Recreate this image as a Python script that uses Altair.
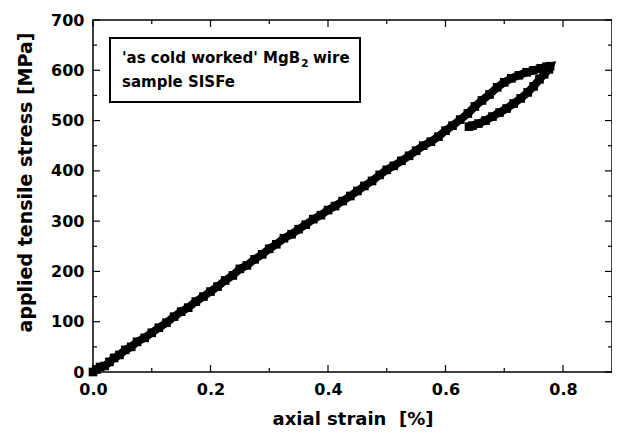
import altair as alt
import pandas as pd

# loading branch (axial strain %, stress MPa)
load_strain = [0.000, 0.006, 0.012, 0.020, 0.028, 0.036, 0.045, 0.055, 0.065, 0.075,
               0.088, 0.100, 0.112, 0.125, 0.138, 0.150, 0.162, 0.175, 0.188, 0.200,
               0.212, 0.225, 0.238, 0.250, 0.262, 0.275, 0.288, 0.300, 0.312, 0.325,
               0.338, 0.350, 0.362, 0.375, 0.388, 0.400, 0.412, 0.425, 0.438, 0.450,
               0.462, 0.475, 0.488, 0.500, 0.512, 0.525, 0.538, 0.550, 0.562, 0.575,
               0.588, 0.600, 0.612, 0.625, 0.638, 0.650, 0.662, 0.675, 0.688, 0.700,
               0.712, 0.725, 0.738, 0.750, 0.762, 0.772, 0.778]
load_stress = [0, 5, 10, 12, 20, 28, 34, 44, 50, 60,
               68, 78, 88, 98, 110, 120, 128, 140, 150, 160,
               170, 182, 192, 205, 212, 224, 234, 245, 254, 266,
               274, 284, 293, 304, 312, 322, 330, 340, 350, 360,
               370, 380, 392, 402, 410, 420, 430, 440, 450, 458,
               468, 480, 490, 502, 514, 528, 540, 552, 566, 576,
               584, 590, 596, 600, 604, 607, 608]
# unloading branch
unload_strain = [0.776, 0.768, 0.760, 0.750, 0.740, 0.728, 0.716, 0.704, 0.692,
                 0.680, 0.668, 0.656, 0.646, 0.640]
unload_stress = [602, 592, 582, 568, 556, 544, 534, 524, 516,
                 508, 500, 494, 490, 488]

x_major = [0.0, 0.2, 0.4, 0.6, 0.8]
x_minor = [0.1, 0.3, 0.5, 0.7]
y_major = [0, 100, 200, 300, 400, 500, 600, 700]
y_minor = [50, 150, 250, 350, 450, 550, 650]

legend_line1 = "'as cold worked' MgB"
legend_sub = "2"
legend_line1b = "wire"
legend_line2 = "sample SISFe"

W, H = 519, 352
FONT = "DejaVu Sans"

strain = load_strain + unload_strain
stress = load_stress + unload_stress
df = pd.DataFrame({"strain": strain, "stress": stress, "order": list(range(len(strain)))})

xs = alt.Scale(domain=[0, 0.8834], nice=False, zero=False)
ys = alt.Scale(domain=[0, 700], nice=False)

xaxis = alt.Axis(values=x_major, format=".1f", ticks=False, domain=False, grid=False,
                 labelFlush=False, labelFont=FONT, labelFontSize=16, labelFontWeight="bold",
                 labelColor="black", labelPadding=9, title="axial strain \u00a0[%]",
                 titleFont=FONT, titleFontSize=18, titleFontWeight="bold", titleColor="black",
                 titlePadding=13)
yaxis = alt.Axis(values=y_major, format="d", ticks=False, domain=False, grid=False,
                 labelFlush=False, labelFont=FONT, labelFontSize=16, labelFontWeight="bold",
                 labelColor="black", labelPadding=9, title="applied tensile stress [MPa]",
                 titleFont=FONT, titleFontSize=19, titleFontWeight="bold", titleColor="black",
                 titlePadding=15, titleY=162)

X = lambda: alt.X("strain:Q", scale=xs, axis=xaxis)
Y = lambda: alt.Y("stress:Q", scale=ys, axis=yaxis)

base = alt.Chart(df)
line = base.mark_line(color="black", strokeWidth=8, strokeJoin="miter").encode(
    x=X(), y=Y(), order="order:Q")
pts = base.mark_square(color="black", size=75, opacity=1).encode(x=X(), y=Y())

def xticks(vals, length):
    d = pd.DataFrame({"strain": vals})
    bot = alt.Chart(d).mark_rule(color="black", strokeWidth=1.2).encode(
        x=X(), y=alt.value(H), y2=alt.value(H - length))
    top = alt.Chart(d).mark_rule(color="black", strokeWidth=1.2).encode(
        x=X(), y=alt.value(0), y2=alt.value(length))
    return [bot, top]

def yticks(vals, length):
    d = pd.DataFrame({"stress": vals})
    left = alt.Chart(d).mark_rule(color="black", strokeWidth=1.2).encode(
        y=Y(), x=alt.value(0), x2=alt.value(length))
    right = alt.Chart(d).mark_rule(color="black", strokeWidth=1.2).encode(
        y=Y(), x=alt.value(W), x2=alt.value(W - length))
    return [left, right]

one = pd.DataFrame({"a": [0]})
box = alt.Chart(one).mark_rect(fill="white", stroke="black", strokeWidth=2).encode(
    x=alt.value(17), x2=alt.value(267), y=alt.value(18), y2=alt.value(82))

def txt(s, x, y, size):
    return alt.Chart(pd.DataFrame({"t": [s]})).mark_text(
        font=FONT, fontSize=size, fontWeight="bold", color="black", align="left",
        baseline="alphabetic").encode(x=alt.value(x), y=alt.value(y), text="t:N")

texts = [
    txt(legend_line1, 29, 43, 15),
    txt(legend_sub, 208, 47, 11),
    txt(legend_line1b, 220, 43, 15),
    txt(legend_line2, 29, 67, 15),
]

chart = alt.layer(
    line, pts, *xticks(x_major, 7), *xticks(x_minor, 4),
    *yticks(y_major, 7), *yticks(y_minor, 4), box, *texts
).properties(
    width=W, height=H,
    autosize=alt.AutoSizeParams(type="none"),
    padding={"left": 85, "top": 12, "right": 0, "bottom": 56},
).configure_view(stroke="black", strokeWidth=1.5)

chart.save("out.html", embed_options={"renderer": "svg", "actions": False})
